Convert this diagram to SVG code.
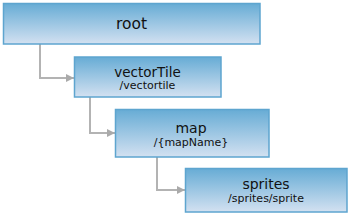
<svg xmlns="http://www.w3.org/2000/svg" width="349" height="214" viewBox="0 0 349 214">
<defs>
<linearGradient id="g" x1="0" y1="0" x2="0" y2="1">
<stop offset="0" stop-color="#67acd5"/>
<stop offset="1" stop-color="#d3e1f1"/>
</linearGradient>
<marker id="arr" viewBox="0 0 8 8" refX="8" refY="4" markerWidth="8" markerHeight="8" markerUnits="userSpaceOnUse" orient="auto">
<path d="M0,0 L8,4 L0,8 z" fill="#aaaaaa"/>
</marker>
<style>
.box{fill:url(#g);stroke:#5ea5cf;stroke-width:1.5}
.t{font-family:"DejaVu Sans",Verdana,sans-serif;font-size:14px;fill:#111;text-anchor:middle}
.s{font-family:"DejaVu Sans",Verdana,sans-serif;font-size:11px;fill:#111;text-anchor:middle}
.c{fill:none;stroke:#b3b3b3;stroke-width:2;marker-end:url(#arr)}
</style>
</defs>
<rect width="349" height="214" fill="#fff"/>
<g id="connectors">
<path class="c" d="M40,44 V78 H74"/>
<path class="c" d="M90,97 V133 H115"/>
<path class="c" d="M157,157 V190 H185"/>
</g>
<g id="root">
<rect class="box" x="3.5" y="3.5" width="256.5" height="40.5"/>
<text class="t" x="131.5" y="29" style="font-size:15.5px">root</text>
</g>
<g id="vectorTile">
<rect class="box" x="74.5" y="57" width="146.5" height="40"/>
<text class="t" x="147.5" y="77" style="font-size:13.5px">vectorTile</text>
<text class="s" x="147.5" y="88.5">/vectortile</text>
</g>
<g id="map">
<rect class="box" x="115.5" y="109.5" width="153.5" height="47.5"/>
<text class="t" x="191" y="133">map</text>
<text class="s" x="191" y="146">/{mapName}</text>
</g>
<g id="sprites">
<rect class="box" x="185.5" y="168.5" width="161.5" height="43.5"/>
<text class="t" x="266" y="189">sprites</text>
<text class="s" x="266" y="201.5">/sprites/sprite</text>
</g>
</svg>
